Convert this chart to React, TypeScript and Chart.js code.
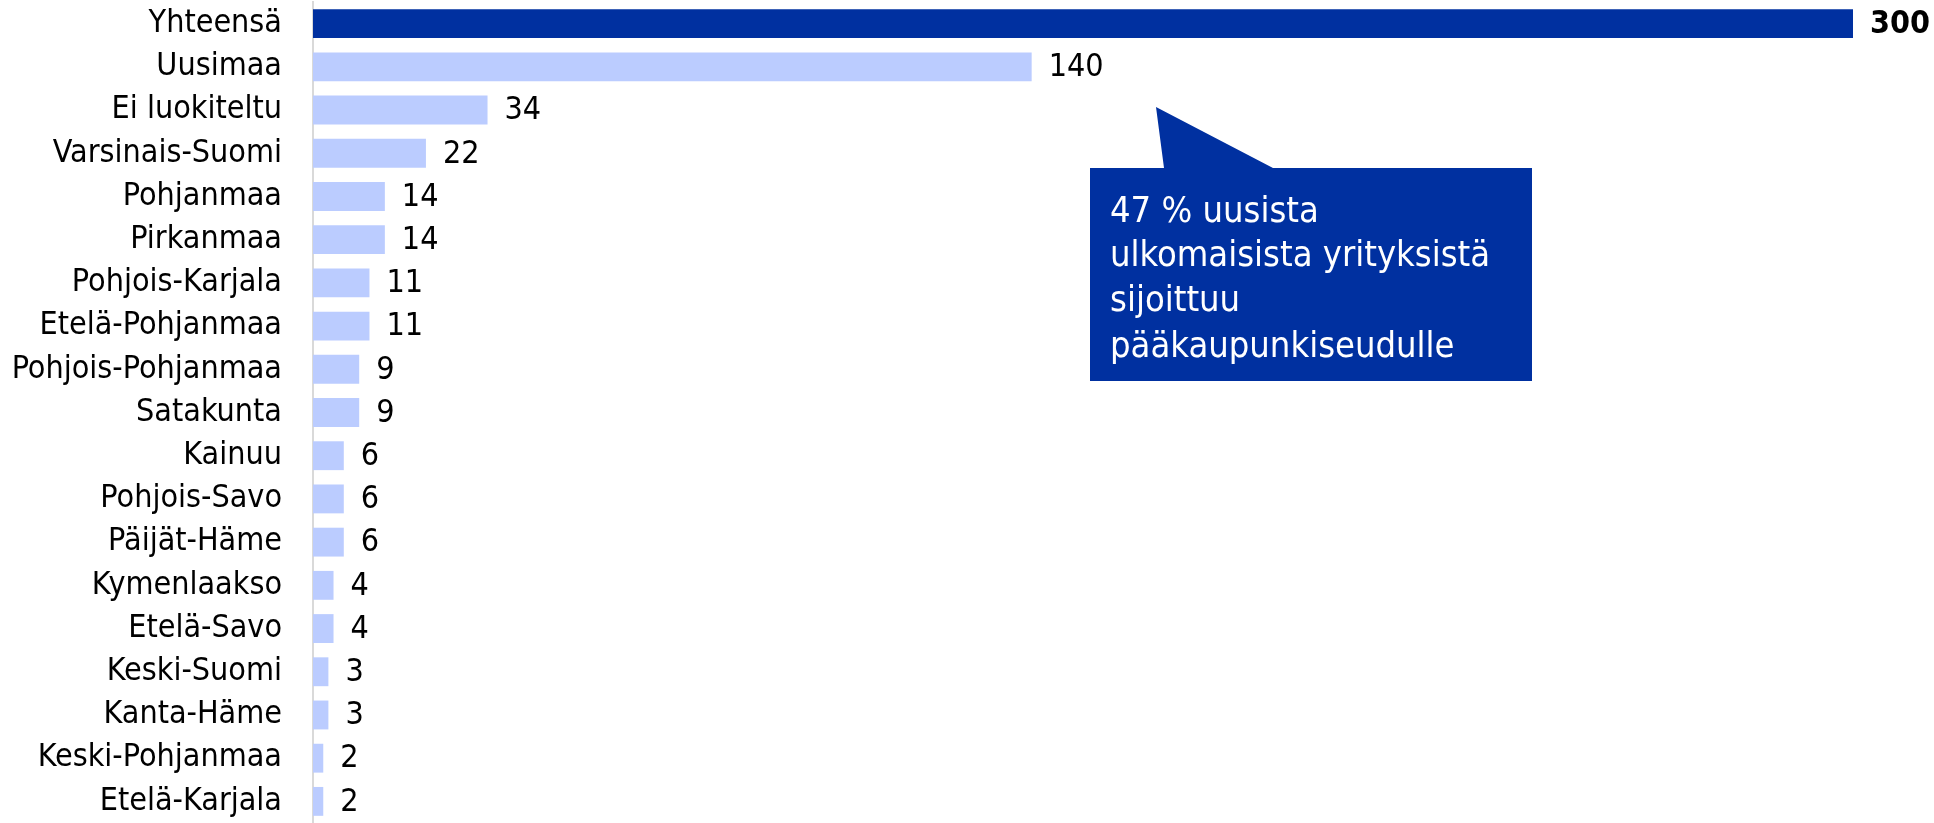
import { useEffect, useRef } from "react";
import { Chart, registerables } from "chart.js";

Chart.register(...registerables);

const regions = [
  "Yhteensä",
  "Uusimaa",
  "Ei luokiteltu",
  "Varsinais-Suomi",
  "Pohjanmaa",
  "Pirkanmaa",
  "Pohjois-Karjala",
  "Etelä-Pohjanmaa",
  "Pohjois-Pohjanmaa",
  "Satakunta",
  "Kainuu",
  "Pohjois-Savo",
  "Päijät-Häme",
  "Kymenlaakso",
  "Etelä-Savo",
  "Keski-Suomi",
  "Kanta-Häme",
  "Keski-Pohjanmaa",
  "Etelä-Karjala",
];
const counts = [300, 140, 34, 22, 14, 14, 11, 11, 9, 9, 6, 6, 6, 4, 4, 3, 3, 2, 2];
const calloutLines = [
  "47 % uusista",
  "ulkomaisista yrityksistä",
  "sijoittuu",
  "pääkaupunkiseudulle",
];

const DARK = "#0030a0";
const LIGHT = "#bbccff";
const FONT = "'DejaVu Sans Condensed', 'DejaVu Sans', sans-serif";

const valueLabels = {
  id: "valueLabels",
  afterDatasetsDraw(chart: any) {
    const ctx = chart.ctx;
    const meta = chart.getDatasetMeta(0);
    ctx.save();
    ctx.textBaseline = "middle";
    ctx.textAlign = "left";
    ctx.fillStyle = "#000";
    meta.data.forEach((bar: any, i: number) => {
      ctx.font = `${i === 0 ? "bold " : ""}32px ${FONT}`;
      ctx.fillText(String(counts[i]), bar.x + 17, bar.y + 1);
    });
    ctx.restore();
  },
};

const callout = {
  id: "callout",
  afterDraw(chart: any) {
    const ctx = chart.ctx;
    ctx.save();
    ctx.fillStyle = DARK;
    ctx.beginPath();
    ctx.moveTo(1090, 168);
    ctx.lineTo(1164, 168);
    ctx.lineTo(1156, 107);
    ctx.lineTo(1273, 168);
    ctx.lineTo(1532, 168);
    ctx.lineTo(1532, 381);
    ctx.lineTo(1090, 381);
    ctx.closePath();
    ctx.fill();
    ctx.fillStyle = "#fff";
    ctx.font = `36px ${FONT}`;
    ctx.textAlign = "left";
    ctx.textBaseline = "alphabetic";
    const baselines = [222, 266, 311, 357];
    calloutLines.forEach((line, i) => ctx.fillText(line, 1110, baselines[i]));
    ctx.restore();
  },
};

export default function App() {
  const ref = useRef<HTMLCanvasElement>(null);
  useEffect(() => {
    document.body.style.margin = "0";
    const chart = new Chart(ref.current!, {
      type: "bar",
      data: {
        labels: regions,
        datasets: [
          {
            data: counts,
            backgroundColor: counts.map((_, i) => (i === 0 ? DARK : LIGHT)),
            borderWidth: 0,
            barPercentage: 0.668,
            categoryPercentage: 1,
          },
        ],
      },
      options: {
        indexAxis: "y",
        animation: false,
        responsive: false,
        layout: { padding: { top: 2, right: 81, bottom: -4, left: 0 } },
        plugins: { legend: { display: false }, tooltip: { enabled: false } },
        scales: {
          x: { display: false, min: 0, max: 300 },
          y: {
            afterFit(scale: any) {
              scale.width = 313;
              scale.paddingTop = 0;
              scale.paddingBottom = 0;
            },
            grid: { display: false, drawTicks: false },
            border: { display: true, color: "#d9d9d9", width: 2 },
            ticks: {
              color: "#000",
              padding: 31,
              autoSkip: false,
              font: { family: FONT, size: 32 },
            },
          },
        },
      },
      plugins: [valueLabels, callout],
    });
    return () => chart.destroy();
  }, []);
  return (
    <div style={{ width: 1934, height: 823 }}>
      <canvas ref={ref} width={1934} height={823} style={{ display: "block" }} />
    </div>
  );
}
